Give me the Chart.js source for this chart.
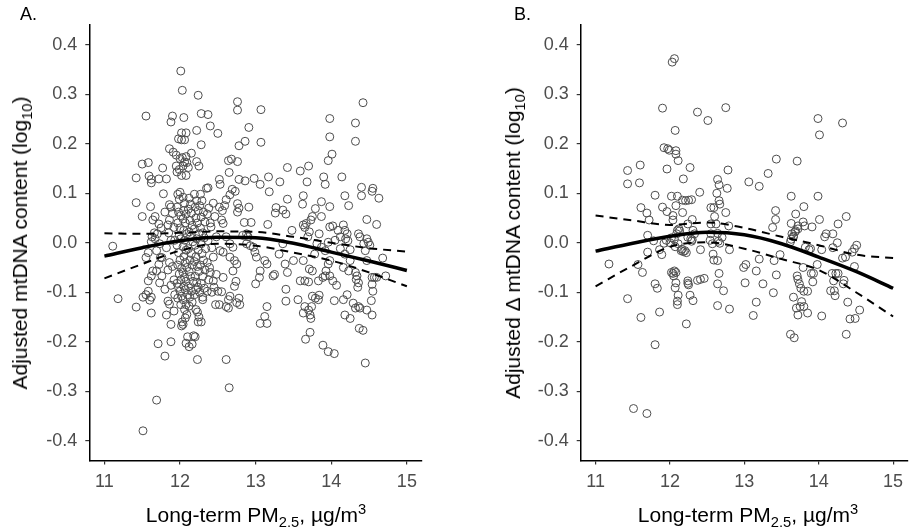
<!DOCTYPE html>
<html>
<head>
<meta charset="utf-8">
<script src="https://cdn.jsdelivr.net/npm/chart.js@4.4.1/dist/chart.umd.min.js"></script>
<style>
  body { margin: 0; background: #fff; }
  #wrap { position: relative; width: 913px; height: 532px; overflow: hidden; font-family: "Liberation Sans", Arial, sans-serif; color: #000; }
  canvas { position: absolute; top: 0; }
  .panel { position: absolute; font-size: 18px; }
  .ytitle { position: absolute; font-size: 21px; white-space: nowrap; transform: translate(-50%, -50%) rotate(-90deg); }
  .xtitle { position: absolute; font-size: 21px; white-space: nowrap; transform: translate(-50%, -50%); }
  sub, sup { font-size: 70%; line-height: 0; }
</style>
</head>
<body>
<div id="wrap">
  <canvas id="chartA" width="456" height="532" style="left:0"></canvas>
  <canvas id="chartB" width="457" height="532" style="left:456px"></canvas>
  <div class="panel" style="left:20px;top:4px">A.</div>
  <div class="panel" style="left:514px;top:4px">B.</div>
  <div class="ytitle" style="left:20px;top:243px">Adjusted mtDNA content (log<sub>10</sub>)</div>
  <div class="ytitle" style="left:513px;top:243px">Adjusted &Delta; mtDNA content (log<sub>10</sub>)</div>
  <div class="xtitle" style="left:256px;top:515px">Long-term PM<sub>2.5</sub>, &micro;g/m<sup>3</sup></div>
  <div class="xtitle" style="left:748px;top:515px">Long-term PM<sub>2.5</sub>, &micro;g/m<sup>3</sup></div>
</div>
<script>
// axis ticks
const xTicks = [11, 12, 13, 14, 15];
const yTicks = [-0.4, -0.3, -0.2, -0.1, 0.0, 0.1, 0.2, 0.3, 0.4];

// smooth fit + confidence band, read at these PM2.5 values
const fitX = [11, 11.5, 12, 12.5, 13, 13.5, 14, 14.5, 15];
const fitA = [-0.027, -0.010, 0.004, 0.011, 0.010, -0.001, -0.019, -0.037, -0.056];
const upperA = [0.019, 0.018, 0.020, 0.023, 0.022, 0.012, 0.000, -0.011, -0.018];
const lowerA = [-0.072, -0.043, -0.016, -0.002, -0.006, -0.020, -0.036, -0.060, -0.088];
const fitB = [-0.017, -0.001, 0.013, 0.021, 0.016, -0.002, -0.029, -0.058, -0.092];
const upperB = [0.055, 0.045, 0.036, 0.041, 0.030, 0.012, -0.005, -0.024, -0.031];
const lowerB = [-0.088, -0.046, -0.008, 0.001, -0.012, -0.033, -0.055, -0.100, -0.149];

// A. participants: [PM2.5, adjusted mtDNA content]
const pointsA = [
  [11.11,-0.007],[11.18,-0.113],[11.42,0.081],[11.42,0.131],[11.42,-0.130],[11.50,0.053],[11.50,0.159],[11.51,-0.380],
  [11.55,0.256],[11.58,0.162],[11.59,0.135],[11.62,0.128],[11.61,0.073],[11.62,0.121],[11.51,-0.110],[11.55,-0.105],
  [11.58,-0.098],[11.60,-0.116],[11.62,-0.110],[11.58,-0.077],[11.62,-0.067],[11.64,-0.057],[11.62,-0.142],[11.55,-0.030],
  [11.58,-0.020],[11.62,0.002],[11.63,0.012],[11.66,0.020],[11.64,0.046],[11.67,0.053],[11.69,-0.318],[11.71,-0.204],
  [11.80,-0.229],[11.88,-0.200],[11.88,-0.165],[11.72,0.038],[11.75,0.030],[11.70,0.018],[11.67,0.008],[11.73,-0.002],
  [11.69,-0.016],[11.76,-0.030],[11.72,-0.044],[11.69,-0.057],[11.73,-0.081],[11.76,-0.067],[11.80,-0.094],[11.84,-0.118],
  [11.86,-0.124],[11.92,-0.138],[11.82,-0.146],[11.77,0.151],[11.72,0.129],[11.82,0.129],[11.78,0.099],[11.86,0.190],
  [11.91,0.183],[11.95,0.177],[11.86,0.077],[11.88,0.072],[11.90,0.059],[11.86,0.046],[11.84,0.036],[11.90,0.256],
  [11.88,0.244],[11.85,0.020],[11.88,0.005],[11.82,-0.010],[11.86,-0.040],[11.90,-0.048],[11.84,-0.055],[11.92,-0.075],
  [11.88,-0.086],[11.93,-0.105],[11.80,0.062],[11.74,-0.030],[11.93,0.005],[11.92,0.031],
  [12.01,0.347],[12.03,0.308],[12.24,0.298],[12.28,0.261],[12.37,0.259],[12.05,0.253],[12.40,0.236],[12.22,0.227],
  [12.02,0.222],[12.08,0.222],[12.06,0.208],[12.02,0.208],[11.98,0.210],[12.28,0.198],[12.15,0.181],[12.00,0.170],
  [12.03,0.172],[12.06,0.163],[12.04,0.155],[12.09,0.162],[12.08,0.174],[12.22,0.164],[12.25,0.155],[11.95,0.155],
  [11.96,0.143],[11.99,0.148],[12.02,0.136],[12.08,0.136],[12.11,0.152],
  [11.97,0.098],[11.99,0.088],[12.00,0.102],[11.96,0.072],[11.98,0.062],[12.01,0.055],[11.97,0.040],[12.00,0.030],
  [11.99,0.015],[12.01,0.008],[11.96,-0.005],[11.98,-0.020],[12.00,-0.035],[11.97,-0.045],[12.02,-0.052],[11.99,-0.063],
  [12.01,-0.075],[11.96,-0.082],[11.98,-0.090],[12.00,-0.098],[12.02,-0.108],[11.97,-0.112],[12.01,-0.125],[12.03,-0.160],
  [12.02,-0.168],[12.04,-0.165],
  [12.04,0.092],[12.06,0.080],[12.05,0.065],[12.08,0.058],[12.04,0.048],[12.07,0.040],[12.05,0.025],[12.09,0.018],
  [12.06,0.005],[12.04,-0.008],[12.08,-0.015],[12.05,-0.028],[12.07,-0.040],[12.09,-0.050],[12.04,-0.060],[12.06,-0.070],
  [12.08,-0.078],[12.05,-0.088],[12.07,-0.095],[12.10,-0.105],[12.04,-0.115],[12.08,-0.125],[12.06,-0.135],[12.09,-0.145],
  [12.07,-0.152],[12.08,-0.203],[12.12,-0.210],[12.10,-0.190],
  [12.12,0.090],[12.14,0.078],[12.11,0.068],[12.15,0.060],[12.13,0.045],[12.16,0.035],[12.12,0.022],[12.14,0.012],
  [12.17,0.002],[12.11,-0.012],[12.15,-0.022],[12.13,-0.035],[12.16,-0.045],[12.12,-0.058],[12.14,-0.068],[12.17,-0.078],
  [12.11,-0.088],[12.15,-0.098],[12.13,-0.110],[12.16,-0.120],[12.12,-0.128],[12.18,-0.188],[12.16,-0.205],[12.20,-0.190],
  [12.19,0.098],[12.22,0.085],[12.20,0.072],[12.24,0.065],[12.21,0.050],[12.23,0.040],[12.19,0.028],[12.25,0.018],
  [12.22,0.008],[12.20,-0.005],[12.24,-0.015],[12.21,-0.028],[12.19,-0.038],[12.23,-0.048],[12.25,-0.058],[12.20,-0.068],
  [12.22,-0.080],[12.24,-0.090],[12.21,-0.095],[12.19,-0.105],[12.23,-0.140],[12.25,-0.150],[12.24,-0.160],[12.23,-0.236],
  [12.21,-0.135],
  [12.27,0.098],[12.29,0.085],[12.26,0.075],[12.31,0.062],[12.28,0.052],[12.33,0.042],[12.27,0.030],[12.30,0.020],
  [12.32,0.010],[12.28,-0.002],[12.34,-0.012],[12.29,-0.022],[12.31,-0.035],[12.27,-0.045],[12.33,-0.055],[12.30,-0.068],
  [12.28,-0.082],[12.32,-0.092],[12.26,-0.100],[12.30,-0.110],[12.28,-0.160],[12.30,-0.115],[12.35,0.110],[12.37,0.111],
  [12.44,0.080],[12.46,0.053],[12.41,0.032],[12.48,0.012],[12.53,-0.016],[12.44,-0.029],[12.39,-0.050],[12.48,-0.064],
  [12.57,-0.070],[12.44,-0.077],[12.50,-0.098],[12.55,-0.099],[12.47,-0.125],[12.52,-0.125],[12.61,-0.129],[12.66,-0.108],
  [12.64,-0.115],[12.61,-0.236],[12.65,-0.293],[12.64,-0.132],[12.50,0.221],[12.52,0.128],[12.53,0.118],
  [12.52,0.072],[12.56,0.065],[12.59,0.075],[12.61,0.087],[12.66,0.097],[12.57,0.039],[12.55,0.046],[12.61,0.012],
  [12.66,-0.002],[12.70,-0.009],[12.57,-0.019],[12.66,-0.029],[12.72,-0.036],[12.70,-0.057],[12.75,-0.043],[12.74,-0.078],
  [12.72,-0.088],[12.78,-0.112],[12.75,-0.121],[12.79,-0.125],[12.76,0.079],[12.78,0.070],[12.76,0.062],[12.73,0.104],
  [12.69,0.108],[12.38,0.070],[12.36,0.058],[12.40,0.040],[12.37,0.004],[12.42,-0.010],[12.36,-0.040],[12.40,-0.060],
  [12.38,-0.075],[12.42,-0.100],[12.36,-0.098],[12.45,-0.090],[12.85,0.041],[12.83,0.015],[12.88,-0.002],[12.93,-0.006],
  [12.64,0.166],[12.68,0.169],[12.76,0.164],[12.65,0.142],[12.78,0.128],[12.86,0.125],[12.76,0.285],[12.76,0.268],
  [12.91,0.233],[12.86,0.205],[12.78,0.196],
  [13.07,0.269],[13.07,0.203],[12.98,0.130],[13.06,0.118],[13.17,0.133],[13.18,0.103],[13.32,0.123],[13.42,0.152],
  [13.42,0.088],[13.27,0.071],[13.36,0.066],[13.40,0.058],[13.26,0.060],[12.91,0.072],[12.94,0.041],[13.16,0.037],
  [13.48,0.025],[12.99,-0.019],[13.01,-0.029],[13.12,-0.036],[13.06,-0.057],[13.15,-0.043],[13.25,-0.064],[13.23,-0.067],
  [13.39,-0.043],[13.42,-0.060],[13.50,-0.036],[13.31,-0.023],[13.40,-0.094],[13.40,-0.118],[13.00,-0.083],[13.05,-0.070],
  [13.15,-0.129],[13.12,-0.149],[13.06,-0.163],[13.15,-0.163],[12.90,0.012],[12.97,-0.009],[13.36,-0.002],[12.88,0.018],
  [13.59,0.145],[13.70,0.155],[13.68,0.123],[13.90,0.133],[13.92,0.118],[13.96,0.166],[13.98,0.251],[13.98,0.214],
  [14.01,0.179],[13.63,0.095],[13.62,0.078],[13.79,0.069],[13.87,0.083],[13.98,0.073],[13.63,0.036],[13.65,0.031],
  [13.67,0.039],[13.71,0.022],[13.75,0.053],[13.73,0.046],[13.87,0.053],[13.69,0.012],[13.81,-0.002],[13.87,-0.009],
  [13.92,-0.016],[13.98,0.032],[14.02,0.034],[13.96,0.001],[13.84,0.018],[13.78,-0.023],[13.63,-0.036],[13.71,-0.053],
  [13.75,-0.057],[13.59,-0.077],[13.65,-0.077],[13.70,-0.079],[13.83,-0.077],[13.89,-0.070],[13.93,-0.057],[13.96,-0.043],
  [13.98,-0.036],[13.92,-0.067],[13.56,-0.115],[13.65,-0.129],[13.70,-0.136],[13.72,-0.146],[13.73,-0.153],[13.74,-0.129],
  [13.75,-0.108],[13.79,-0.112],[13.84,-0.106],[13.83,-0.115],[13.63,-0.142],[13.66,-0.195],[13.72,-0.181],[13.89,-0.207],
  [13.96,-0.220],[14.04,-0.224],[14.04,-0.117],[14.07,-0.086],[14.02,-0.077],[13.98,-0.067],
  [14.14,0.133],[14.18,0.095],[14.23,0.075],[14.32,0.242],[14.32,0.205],[14.42,0.283],[14.40,0.112],[14.40,0.095],
  [14.55,0.110],[14.54,0.104],[14.63,0.090],[14.47,0.047],[14.60,0.037],[14.16,0.036],[14.18,0.025],[14.21,0.018],
  [14.09,0.025],[14.12,0.012],[14.05,0.005],[14.19,0.008],[14.22,0.004],[14.25,-0.014],[14.36,0.018],[14.38,0.012],
  [14.43,-0.002],[14.47,0.008],[14.49,0.001],[14.45,-0.016],[14.51,-0.005],[14.12,-0.012],[14.18,-0.023],[14.25,-0.036],
  [14.16,-0.050],[14.23,-0.057],[14.32,-0.060],[14.34,-0.067],[14.33,-0.074],[14.36,-0.081],[14.35,-0.090],[14.47,-0.036],
  [14.54,-0.070],[14.57,-0.070],[14.54,-0.084],[14.55,-0.098],[14.72,-0.067],[14.68,-0.031],[14.60,-0.070],[14.16,-0.115],
  [14.21,-0.105],[14.18,-0.146],[14.25,-0.153],[14.29,-0.122],[14.32,-0.132],[14.36,-0.129],[14.38,-0.132],[14.37,-0.173],
  [14.42,-0.177],[14.45,-0.243],[14.47,-0.136],[14.54,-0.146],[14.53,-0.117]
];

// B. participants: [PM2.5, adjusted delta mtDNA content]
const pointsB = [
  [12.03,0.365],[12.06,0.372],[11.90,0.272],[12.37,0.264],[12.51,0.247],[12.75,0.273],[12.07,0.227],[11.92,0.192],
  [11.97,0.190],[11.99,0.187],[12.08,0.186],[12.08,0.179],[12.11,0.166],[11.96,0.149],[12.27,0.152],[11.43,0.146],
  [11.43,0.119],[11.60,0.157],[11.59,0.121],[12.18,0.129],[11.80,0.096],[12.02,0.094],[12.10,0.094],[12.40,0.102],
  [12.17,0.086],[12.21,0.085],[12.25,0.086],[12.29,0.087],[11.61,0.071],[11.90,0.072],[11.96,0.063],[12.08,0.075],
  [12.17,0.061],[11.69,0.060],[11.72,0.046],[12.04,0.055],[12.04,0.046],[12.30,0.047],[12.24,0.038],[12.64,0.128],
  [12.66,0.117],[12.63,0.100],[12.66,0.085],[12.67,0.078],[12.59,0.071],[12.60,0.053],[12.78,0.147],[12.77,0.110],
  [12.75,0.061],[12.79,0.034],[12.55,0.071],[12.55,0.038],[13.06,0.123],[13.20,0.114],[13.32,0.140],[13.43,0.169],
  [13.71,0.165],[13.63,0.094],[13.99,0.094],[13.99,0.251],[14.01,0.218],[14.32,0.242],[13.42,0.065],[13.42,0.047],
  [13.80,0.073],[13.69,0.058],[14.01,0.047],[14.37,0.053],[13.63,0.039],[13.72,0.034],[13.79,0.042],[13.81,0.034],
  [13.91,0.032],[13.38,0.031],[13.64,0.018],[13.66,0.012],[13.68,0.022],[14.10,0.018],[14.08,0.012],[14.19,0.018],
  [14.26,0.038],[14.25,0.000],[14.51,-0.005],[14.48,-0.012],[14.45,-0.019],[14.32,-0.031],[14.36,-0.029],[14.48,-0.048],
  [14.19,-0.010],[14.04,-0.014],[13.98,-0.044],[13.82,-0.009],[13.87,-0.014],[13.89,-0.012],[13.79,-0.050],[13.90,-0.062],
  [13.93,-0.062],[13.92,-0.079],[13.71,-0.067],[13.72,-0.074],[13.74,-0.083],[13.76,-0.092],[13.80,-0.098],[13.85,-0.098],
  [13.66,-0.110],[13.70,-0.132],[13.75,-0.129],[13.72,-0.146],[13.77,-0.119],[13.80,-0.129],[13.85,-0.142],[14.04,-0.148],
  [14.18,-0.062],[14.23,-0.062],[14.26,-0.062],[14.20,-0.077],[14.16,-0.097],[14.21,-0.097],[14.22,-0.107],[14.34,-0.076],
  [14.33,-0.083],[14.39,-0.120],[14.42,-0.154],[14.49,-0.153],[14.55,-0.136],[14.37,-0.185],[13.62,-0.185],[13.67,-0.192],
  [13.62,0.002],[13.63,0.007],[13.66,0.013],[13.69,0.024],[13.72,0.028],
  [11.18,-0.043],[11.57,-0.044],[11.63,-0.060],[11.43,-0.113],[11.61,-0.151],[11.80,-0.083],[11.83,-0.092],[11.86,-0.140],
  [11.80,-0.206],[11.51,-0.335],[11.69,-0.345],[11.70,0.015],[11.70,-0.019],[11.89,-0.024],[11.86,-0.014],[12.02,-0.060],
  [12.04,-0.062],[12.06,-0.057],[12.08,-0.060],[12.05,-0.067],[12.08,-0.081],[12.07,-0.091],[12.11,-0.106],[12.10,-0.118],
  [12.10,-0.125],[12.22,-0.164],[12.24,-0.077],[12.24,-0.082],[12.25,-0.085],[12.27,-0.106],[12.31,-0.117],[12.37,-0.076],
  [12.41,-0.074],[12.46,-0.072],[12.64,-0.083],[12.66,-0.062],[12.64,-0.127],[12.72,-0.097],[12.80,-0.134],[12.59,-0.035],
  [12.64,-0.036],[12.41,-0.014],[12.80,-0.014],[12.58,-0.023],[12.99,-0.050],[13.02,-0.044],[13.01,-0.081],[13.12,-0.147],
  [13.16,-0.120],[13.16,-0.057],[13.20,-0.033],[13.25,-0.083],[13.39,-0.101],[13.40,-0.036],[13.43,-0.065],[13.48,-0.024],
  [12.02,0.010],[12.06,0.007],[12.09,0.018],[12.13,0.024],[12.11,-0.002],[12.07,-0.008],[12.15,-0.016],[12.20,-0.016],
  [12.22,-0.020],[12.24,0.011],[12.28,0.008],[12.29,0.003],[12.30,0.006],[12.33,0.018],[12.31,0.025],[12.55,0.018],
  [12.54,0.005],[12.57,-0.002],[12.65,0.003],[12.70,0.011],[12.67,-0.001],[11.92,-0.001],[11.95,0.005],[12.10,0.025],
  [12.12,0.028],[12.16,-0.013],[12.18,-0.018],[12.62,0.038],[12.64,0.019],[12.00,0.000],[11.78,0.004]
];

const fontFamily = '"Liberation Sans", Arial, sans-serif';

function makePanel(canvasId, points, fit, upper, lower, yAxisWidth, rightPad) {
    const ctx = document.getElementById(canvasId).getContext("2d");
    const lineXY = (ys) => fitX.map((x, i) => ({ x: x, y: ys[i] }));
    const dashed = {
        type: "line", pointRadius: 0, borderColor: "#000", borderWidth: 2,
        borderDash: [8, 6], fill: false, cubicInterpolationMode: "monotone", order: 1
    };
    return new Chart(ctx, {
        type: "scatter",
        data: {
            datasets: [
                {
                    type: "line", data: lineXY(fit), pointRadius: 0, borderColor: "#000",
                    borderWidth: 3.5, fill: false, cubicInterpolationMode: "monotone", order: 0
                },
                Object.assign({ data: lineXY(upper) }, dashed),
                Object.assign({ data: lineXY(lower) }, dashed),
                {
                    data: points.map(p => ({ x: p[0], y: p[1] })),
                    pointRadius: 4, pointHoverRadius: 4, pointStyle: "circle",
                    pointBorderColor: "#4d4d4d", pointBackgroundColor: "rgba(0,0,0,0)",
                    pointBorderWidth: 1, order: 2
                }
            ]
        },
        options: {
            responsive: false,
            animation: false,
            devicePixelRatio: 1,
            layout: { padding: { top: 25, right: rightPad, left: 0, bottom: 0 } },
            plugins: { legend: { display: false }, tooltip: { enabled: false } },
            scales: {
                x: {
                    type: "linear", min: 10.8, max: 15.2,
                    afterBuildTicks: (s) => { s.ticks = xTicks.map(v => ({ value: v })); },
                    afterFit: (s) => { s.height = 71.5; },
                    grid: { drawOnChartArea: false, drawTicks: true, tickLength: 4, color: "#333", lineWidth: 1.2 },
                    border: { display: true, color: "#000", width: 1.5 },
                    ticks: { color: "#4d4d4d", padding: 7, font: { family: fontFamily, size: 18 } }
                },
                y: {
                    type: "linear", min: -0.44, max: 0.44,
                    afterBuildTicks: (s) => { s.ticks = yTicks.map(v => ({ value: v })); },
                    afterFit: (s) => { s.width = yAxisWidth; },
                    grid: { drawOnChartArea: false, drawTicks: true, tickLength: 4, color: "#333", lineWidth: 1.2 },
                    border: { display: true, color: "#000", width: 1.5 },
                    ticks: {
                        color: "#4d4d4d", padding: 8, font: { family: fontFamily, size: 18 },
                        callback: (v) => Number(v).toFixed(1)
                    }
                }
            }
        }
    });
}

makePanel("chartA", pointsA, fitA, upperA, lowerA, 89.3, 34);
makePanel("chartB", pointsB, fitB, upperB, lowerB, 124.7, 0);
</script>
</body>
</html>
